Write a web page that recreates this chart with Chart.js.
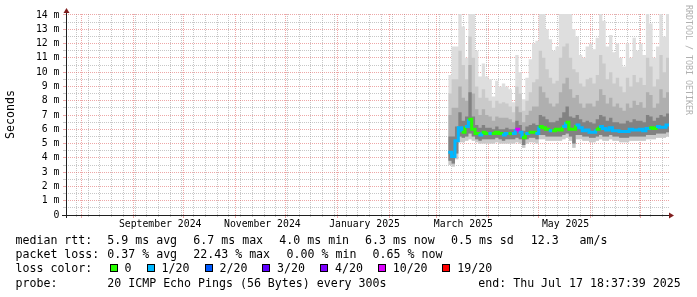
<!DOCTYPE html>
<html>
<head>
<meta charset="utf-8">
<script src="https://cdn.jsdelivr.net/npm/chart.js@4.4.1/dist/chart.umd.min.js"></script>
<style>
  body { margin: 0; background: #fff; }
  #wrap { position: relative; width: 697px; height: 297px; overflow: hidden; background: #fff; }
  #chart { position: absolute; left: 0; top: 0; }
  .t { position: absolute; font-family: 'DejaVu Sans Mono', monospace; font-size: 11.6px; line-height: 14px; color: #000; white-space: pre; }
  .box { position: absolute; width: 8px; height: 8px; box-sizing: border-box; border: 1px solid #000; }
  #mark { position: absolute; left: 684px; top: 5px; font-family: 'DejaVu Sans Mono', monospace; font-size: 8.3px; line-height: 9px; color: #b0b0b0; writing-mode: vertical-rl; white-space: pre; }
</style>
</head>
<body>
<div id="wrap">
  <canvas id="chart" width="697" height="297"></canvas>
  <div id="legend"></div>
  <div id="mark">RRDTOOL / TOBI OETIKER</div>
</div>
<script>
// x values are days since 2025-01-01; one sample per 2 days from 8 Mar 2025, last one is the graph end
const days = []
for (let d = 66; d <= 196; d += 2) days.push(d)
days.push(197.78)

const median = [
  4.4, 4.1, 5.2, 6.1, 5.8, 6.2, 6.7, 6.0, 5.7, 5.6,
  5.8, 5.7, 5.7, 5.7, 5.8, 5.7, 5.6, 5.7, 5.7, 5.7,
  6.0, 5.8, 5.4, 5.7, 5.8, 5.8, 5.7, 6.2, 6.1, 6.0,
  5.9, 5.9, 6.0, 5.95, 6.2, 6.5, 6.0, 6.0, 6.3, 6.1,
  5.9, 5.95, 5.8, 5.8, 6.0, 6.2, 6.05, 5.95, 6.1, 5.9,
  5.9, 5.85, 5.85, 5.85, 6.0, 5.95, 5.95, 6.0, 5.9, 6.05,
  6.1, 6.05, 6.2, 6.15, 6.15, 6.3, 6.3
]
// lost pings out of 20
const loss = [
  1, 1, 1, 1, 0, 1, 0, 0, 0, 1,
  0, 0, 1, 0, 0, 0, 1, 1, 0, 1,
  10, 1, 0, 1, 0, 0, 1, 0, 0, 0,
  1, 0, 0, 0, 1, 0, 0, 0, 1, 1,
  1, 1, 1, 1, 0, 1, 1, 1, 1, 1,
  1, 1, 1, 1, 1, 1, 1, 1, 1, 1,
  0, 0, 1, 1, 1, 1, 1
]
const smokeMax = [
  9.8, 11.8, 11.8, 14.5, 13.2, 11.0, 14.5, 14.5, 11.5, 9.7,
  10.6, 9.7, 9.5, 8.3, 9.4, 9.0, 9.2, 9.0, 8.8, 7.9,
  11.2, 10.0, 8.1, 9.6, 10.9, 12.0, 12.2, 14.5, 14.5, 13.0,
  12.3, 11.5, 11.8, 14.5, 14.5, 14.5, 14.5, 13.0, 12.5, 11.2,
  11.0, 11.8, 12.0, 11.6, 12.4, 14.5, 13.6, 11.8, 12.6, 11.4,
  12.0, 11.0, 10.4, 12.0, 11.0, 12.4, 11.5, 12.0, 11.2, 14.5,
  13.4, 11.0, 11.8, 14.5, 12.5, 14.5, 14.5
]
const smokeP90 = [
  8.5, 9.5, 9.5, 11.5, 10.5, 9.5, 12.5, 11.0, 9.0, 8.2,
  8.8, 8.2, 8.0, 7.5, 8.0, 7.8, 7.9, 7.8, 7.6, 7.2,
  9.0, 8.5, 7.3, 8.0, 8.6, 9.3, 9.5, 11.5, 11.0, 10.2,
  9.6, 9.2, 9.4, 11.0, 11.8, 12.0, 11.0, 10.2, 10.0, 9.2,
  9.0, 9.5, 9.6, 9.2, 9.8, 11.2, 10.6, 9.5, 10.0, 9.2,
  9.6, 9.0, 8.6, 9.6, 9.0, 9.8, 9.3, 9.6, 9.1, 11.0,
  10.4, 9.0, 9.5, 11.2, 10.0, 11.0, 11.0
]
const smokeP75 = [
  7.0, 7.5, 7.5, 9.0, 8.2, 8.0, 10.5, 8.5, 7.4, 7.0,
  7.4, 7.0, 6.9, 6.6, 6.9, 6.8, 6.8, 6.8, 6.7, 6.5,
  7.6, 7.2, 6.5, 7.0, 7.3, 7.6, 7.6, 9.0, 8.6, 8.2,
  7.8, 7.6, 7.8, 8.6, 9.2, 9.6, 8.8, 8.2, 8.4, 7.8,
  7.5, 7.8, 7.8, 7.6, 8.0, 8.8, 8.4, 7.8, 8.2, 7.6,
  7.8, 7.5, 7.3, 7.8, 7.5, 8.0, 7.7, 7.9, 7.5, 8.6,
  8.4, 7.5, 7.8, 8.8, 8.2, 8.6, 8.6
]
const smokeP60 = [
  5.5, 5.5, 6.2, 7.2, 6.6, 6.9, 8.6, 6.9, 6.3, 6.1,
  6.3, 6.1, 6.1, 6.0, 6.2, 6.0, 6.0, 6.1, 6.0, 6.0,
  6.6, 6.3, 5.9, 6.2, 6.3, 6.4, 6.3, 7.0, 6.9, 6.7,
  6.5, 6.5, 6.6, 6.8, 7.2, 7.6, 6.9, 6.8, 7.0, 6.7,
  6.5, 6.6, 6.5, 6.4, 6.7, 7.0, 6.9, 6.6, 6.8, 6.5,
  6.5, 6.4, 6.4, 6.6, 6.5, 6.7, 6.6, 6.6, 6.5, 7.0,
  6.9, 6.6, 6.8, 7.0, 6.9, 7.1, 7.1
]
const smokeLo = [
  3.8, 3.6, 4.3, 5.5, 5.4, 5.5, 5.7, 5.5, 5.3, 5.2,
  5.3, 5.3, 5.3, 5.3, 5.4, 5.3, 5.2, 5.3, 5.3, 5.3,
  5.4, 5.3, 4.9, 5.3, 5.4, 5.4, 5.3, 5.6, 5.6, 5.5,
  5.5, 5.5, 5.5, 5.5, 5.6, 5.7, 5.5, 5.0, 5.6, 5.6,
  5.5, 5.5, 5.4, 5.4, 5.5, 5.6, 5.5, 5.5, 5.6, 5.5,
  5.5, 5.4, 5.4, 5.4, 5.5, 5.5, 5.5, 5.5, 5.5, 5.6,
  5.6, 5.6, 5.7, 5.7, 5.7, 5.8, 5.8
]
const smokeMin = [
  3.5, 3.4, 3.9, 5.1, 5.1, 5.2, 5.3, 5.2, 5.1, 5.0,
  5.0, 5.0, 5.0, 5.0, 5.1, 5.0, 5.0, 5.0, 5.0, 5.0,
  5.1, 5.0, 4.7, 5.0, 5.1, 5.1, 5.0, 5.3, 5.3, 5.2,
  5.2, 5.2, 5.2, 5.2, 5.3, 5.4, 5.2, 4.7, 5.3, 5.3,
  5.2, 5.2, 5.1, 5.1, 5.2, 5.3, 5.2, 5.2, 5.3, 5.2,
  5.2, 5.1, 5.1, 5.1, 5.2, 5.2, 5.2, 5.2, 5.2, 5.3,
  5.3, 5.3, 5.4, 5.4, 5.4, 5.5, 5.5
]

const lossSteps = [0, 1, 2, 3, 4, 10, 19]
const lossLabels = ['0', '1/20', '2/20', '3/20', '4/20', '10/20', '19/20']
const lossColors = ['#26ff00', '#00b8ff', '#0059ff', '#5e00ff', '#7e00ff', '#dd00ff', '#ff0000']

const graphStart = -162.22
const graphEnd = 197.78
const monthStarts = [-153, -122, -92, -61, -31, 0, 31, 59, 90, 120, 151, 181]
const labelDays = [-106, -45, 16, 75, 136]
const monthLabels = ['September 2024', 'November 2024', 'January 2025', 'March 2025', 'May 2025']
const yMajor = [0, 1, 2, 3, 4, 5, 6, 7, 8, 9, 10, 11, 12, 13, 14]

const rttStats = ['5.9 ms avg', '6.7 ms max', '4.0 ms min', '6.3 ms now', '0.5 ms sd', '12.3   am/s']
const lossStats = ['0.37 % avg', '22.43 % max', '0.00 % min', '0.65 % now']
const probeText = '20 ICMP Echo Pings (56 Bytes) every 300s'
const endText = 'end: Thu Jul 17 18:37:39 2025'

const mondays = []
for (let d = 5; d >= graphStart; d -= 7) mondays.unshift(d)
for (let d = 12; d <= graphEnd; d += 7) mondays.push(d)
const yMinor = yMajor.slice(0, -1).map(v => v + 0.5)

const GRID = 'rgba(143,143,143,0.5)'
const MGRID = 'rgba(222,79,79,0.5)'

function lossColor (n) {
  let c = lossColors[0]
  lossSteps.forEach((s, i) => { if (n >= s) c = lossColors[i] })
  return c
}

const pts = arr => days.map((d, i) => ({ x: d, y: arr[i] }))
const smoke = (label, arr, fill, color, order) => ({
  label,
  data: pts(arr),
  fill,
  backgroundColor: color,
  borderColor: 'rgba(0,0,0,0)',
  borderWidth: 1,
  pointRadius: 0,
  stepped: true,
  order
})

const axisArrows = {
  id: 'axisArrows',
  afterDraw (chart) {
    const { ctx, chartArea: a } = chart
    ctx.save()
    ctx.strokeStyle = '#1f1f1f'
    ctx.lineWidth = 1
    ctx.beginPath()
    ctx.moveTo(a.left - 4, a.bottom + 0.5)
    ctx.lineTo(a.right, a.bottom + 0.5)
    ctx.moveTo(a.left + 0.5, a.bottom + 3)
    ctx.lineTo(a.left + 0.5, a.top - 2)
    ctx.stroke()
    ctx.fillStyle = '#801f1f'
    ctx.beginPath()
    ctx.moveTo(a.left + 0.5, a.top - 6)
    ctx.lineTo(a.left - 2.5, a.top - 1)
    ctx.lineTo(a.left + 3.5, a.top - 1)
    ctx.closePath()
    ctx.fill()
    ctx.beginPath()
    ctx.moveTo(a.right + 5, a.bottom + 0.5)
    ctx.lineTo(a.right, a.bottom - 2.5)
    ctx.lineTo(a.right, a.bottom + 3.5)
    ctx.closePath()
    ctx.fill()
    ctx.restore()
  }
}

Chart.defaults.font.family = "'DejaVu Sans Mono', monospace"
Chart.defaults.color = '#000'

const hiddenX = (ticks, color, len) => ({
  type: 'linear',
  position: 'bottom',
  min: graphStart,
  max: graphEnd,
  z: 1,
  afterBuildTicks: s => { s.ticks = ticks.map(v => ({ value: v })) },
  afterFit: s => { s.height = 0 },
  ticks: { display: false },
  grid: { color, tickLength: len, tickColor: color },
  border: { display: false, dash: [1, 1] }
})
const gridY = (ticks, color) => ({
  type: 'linear',
  position: 'left',
  min: 0,
  max: 14.07,
  z: 1,
  afterBuildTicks: s => { s.ticks = ticks.map(v => ({ value: v })) },
  afterFit: s => { s.width = 0 },
  ticks: { display: false },
  grid: { color, tickLength: 3, tickColor: color },
  border: { display: false, dash: [1, 1] }
})

new Chart(document.getElementById('chart'), {
  type: 'line',
  data: {
    datasets: [
      {
        label: 'median rtt',
        data: pts(median),
        borderWidth: 3,
        borderColor: lossColors[0],
        borderCapStyle: 'butt',
        pointRadius: 0,
        stepped: true,
        fill: false,
        order: 0,
        segment: { borderColor: ctx => lossColor(loss[ctx.p0DataIndex]) }
      },
      smoke('max', smokeMax, 6, '#dedede', 10),
      smoke('p90', smokeP90, 6, '#cacaca', 9),
      smoke('p75', smokeP75, 5, '#afafaf', 8),
      smoke('p60', smokeP60, 5, '#828282', 7),
      smoke('lo', smokeLo, false, 'rgba(0,0,0,0)', 6),
      smoke('min', smokeMin, false, 'rgba(0,0,0,0)', 5)
    ]
  },
  options: {
    responsive: false,
    animation: false,
    devicePixelRatio: 1,
    layout: { padding: { left: 0, right: 28, top: 14, bottom: 0 } },
    plugins: { legend: { display: false }, tooltip: { enabled: false } },
    scales: {
      x: hiddenX(mondays, GRID, 2),
      xm: hiddenX(monthStarts, MGRID, 3),
      xl: {
        type: 'linear',
        position: 'bottom',
        min: graphStart,
        max: graphEnd,
        afterBuildTicks: s => { s.ticks = labelDays.map(v => ({ value: v })) },
        afterFit: s => { s.height = 82 },
        ticks: {
          autoSkip: false,
          maxRotation: 0,
          padding: 4,
          color: '#000',
          font: { size: 9.8 },
          callback: (v, i) => monthLabels[i]
        },
        grid: { display: false, drawTicks: false },
        border: { display: false }
      },
      ym: gridY(yMinor, GRID),
      y: {
        type: 'linear',
        position: 'left',
        min: 0,
        max: 14.07,
        z: 1,
        afterBuildTicks: s => { s.ticks = yMajor.map(v => ({ value: v })) },
        afterFit: s => { s.width = 66 },
        ticks: {
          autoSkip: false,
          padding: 3.5,
          color: '#000',
          font: { size: 9.8 },
          callback: v => (v === 0 ? '0' : v + ' m')
        },
        grid: { tickLength: 3, color: MGRID, tickColor: MGRID },
        border: { display: false, dash: [1, 1] },
        title: { display: true, text: 'Seconds', color: '#000', font: { size: 11.6 } }
      }
    }
  },
  plugins: [axisArrows]
})

// legend rows under the graph
const legend = document.getElementById('legend')
function addText (x, y, s) {
  const d = document.createElement('div')
  d.className = 't'
  d.style.left = x + 'px'
  d.style.top = y + 'px'
  d.textContent = s
  legend.appendChild(d)
}
const rowTop = [233.3, 247.3, 261.3, 275.5]
addText(15.5, rowTop[0], 'median rtt:')
;[107.3, 193.3, 279.3, 365, 451, 530.7].forEach((x, i) => addText(x, rowTop[0], rttStats[i]))
addText(15.5, rowTop[1], 'packet loss:')
;[107.3, 193.3, 286.6, 372.6].forEach((x, i) => addText(x, rowTop[1], lossStats[i]))
addText(15.5, rowTop[2], 'loss color:')
;[109.5, 146.5, 204.5, 262, 320, 377.7, 442.3].forEach((x, i) => {
  const b = document.createElement('div')
  b.className = 'box'
  b.style.left = x + 'px'
  b.style.top = '264px'
  b.style.background = lossColors[i]
  legend.appendChild(b)
  addText(x + 15, rowTop[2], lossLabels[i])
})
addText(15.5, rowTop[3], 'probe:')
addText(107.3, rowTop[3], probeText)
addText(478.3, rowTop[3], endText)
</script>
</body>
</html>
